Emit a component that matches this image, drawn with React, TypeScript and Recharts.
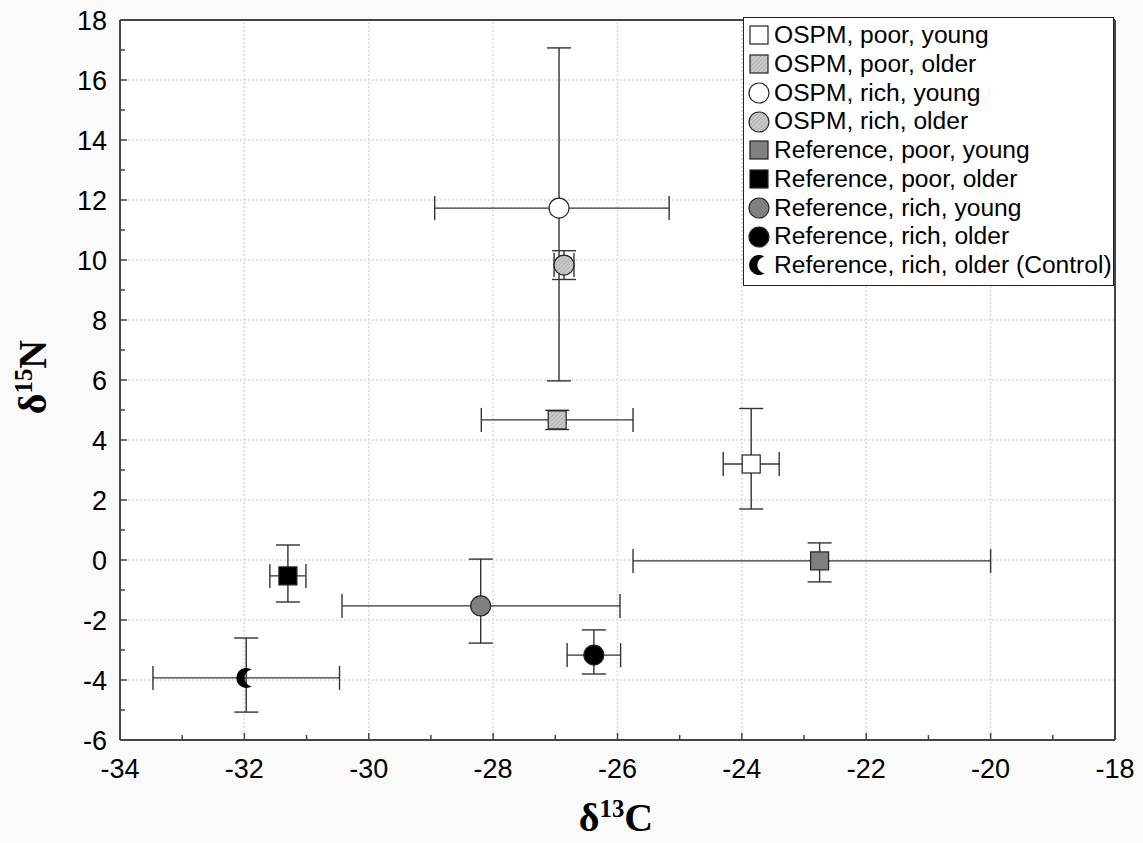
import React from 'react';
import { ScatterChart, Scatter, XAxis, YAxis, ErrorBar, ReferenceLine, CartesianGrid, Legend } from 'recharts';

const seriesNames = [
  'OSPM, poor, young',
  'OSPM, poor, older',
  'OSPM, rich, young',
  'OSPM, rich, older',
  'Reference, poor, young',
  'Reference, poor, older',
  'Reference, rich, young',
  'Reference, rich, older',
  'Reference, rich, older (Control)',
];
const d13C = [-23.85, -26.97, -26.94, -26.86, -22.75, -31.3, -28.2, -26.38, -31.97];
const d15N = [3.2, 4.67, 11.73, 9.83, -0.03, -0.53, -1.53, -3.17, -3.93];
// [below, above] around the mean
const errC = [[0.45, 0.45], [1.22, 1.22], [2.0, 1.77], [0.16, 0.16], [3.0, 2.75], [0.29, 0.29], [2.23, 2.24], [0.43, 0.43], [1.5, 1.5]];
const errN = [[1.5, 1.85], [0.32, 0.32], [5.76, 5.34], [0.48, 0.48], [0.7, 0.6], [0.87, 1.03], [1.24, 1.56], [0.63, 0.84], [1.14, 1.33]];
const markers = ['square', 'square', 'circle', 'circle', 'square', 'square', 'circle', 'circle', 'moon'];
const fills = ['#ffffff', 'url(#hatch)', '#ffffff', 'url(#hatch)', '#808080', '#000000', '#808080', '#000000', '#000000'];

const xTicks = [-34, -33, -32, -31, -30, -29, -28, -27, -26, -25, -24, -23, -22, -21, -20, -19, -18];
const yTicks = [-6, -5, -4, -3, -2, -1, 0, 1, 2, 3, 4, 5, 6, 7, 8, 9, 10, 11, 12, 13, 14, 15, 16, 17, 18];
const xGrid = [-32, -30, -28, -26, -24, -22, -20];
const yGrid = [-4, -2, 0, 2, 4, 6, 8, 10, 12, 14, 16];

const series = seriesNames.map((name, i) => ({
  name,
  marker: markers[i],
  fill: fills[i],
  data: [{ x: d13C[i], y: d15N[i], ex: errC[i], ey: errN[i] }],
}));

const AXIS = '#444';
const BAR = '#333';

const drawMarker = (kind: string, fill: string, cx: number, cy: number) => {
  if (kind === 'square') {
    return <rect x={cx - 9} y={cy - 9} width={18} height={18} fill={fill} stroke="#222" strokeWidth={1.2} />;
  }
  if (kind === 'circle') {
    return <circle cx={cx} cy={cy} r={10} fill={fill} stroke="#222" strokeWidth={1.2} />;
  }
  // crescent, horns to the right
  const d = `M ${cx + 5.5} ${cy - 8.4} A 10 10 0 1 0 ${cx + 5.5} ${cy + 8.4} A 8.5 8.5 0 0 1 ${cx + 5.5} ${cy - 8.4} Z`;
  return <path d={d} fill={fill} />;
};

const isMajor = (v: number) => v % 2 === 0;

const BottomTick = (p: any) => {
  const v = p.payload.value;
  return (
    <g>
      <line x1={p.x} x2={p.x} y1={p.y} y2={p.y - (isMajor(v) ? 7 : 5)} stroke={AXIS} strokeWidth={1.5} />
      {isMajor(v) && (
        <text x={p.x} y={p.y + 38} textAnchor="middle" fontSize={27} fill="#000">{v}</text>
      )}
    </g>
  );
};

const LeftTick = (p: any) => {
  const v = p.payload.value;
  return (
    <g>
      <line x1={p.x} x2={p.x + (isMajor(v) ? 7 : 5)} y1={p.y} y2={p.y} stroke={AXIS} strokeWidth={1.5} />
      {isMajor(v) && (
        <text x={p.x - 13} y={p.y + 9.5} textAnchor="end" fontSize={27} fill="#000">{v}</text>
      )}
    </g>
  );
};

const TopTick = (p: any) => (
  <line x1={p.x} x2={p.x} y1={p.y} y2={p.y + (isMajor(p.payload.value) ? 7 : 5)} stroke={AXIS} strokeWidth={1.5} />
);

const RightTick = (p: any) => (
  <line x1={p.x} x2={p.x - (isMajor(p.payload.value) ? 7 : 5)} y1={p.y} y2={p.y} stroke={AXIS} strokeWidth={1.5} />
);

const LegendBox = () => (
  <div style={{ border: '1.5px solid #222', background: '#fff', padding: '3px 0 5px 0', width: 369 }}>
    {series.map((s) => (
      <div key={s.name} style={{ display: 'flex', alignItems: 'center', height: 28.75 }}>
        <svg width={30} height={26} style={{ flex: 'none' }}>
          {drawMarker(s.marker, s.fill, 15, 13)}
        </svg>
        <span style={{ fontSize: 24.6, color: '#000', whiteSpace: 'nowrap', lineHeight: 1 }}>{s.name}</span>
      </div>
    ))}
  </div>
);

const titleStyle: React.CSSProperties = {
  position: 'absolute',
  fontFamily: '"Liberation Serif", "Times New Roman", serif',
  fontWeight: 'bold',
  fontSize: 40,
  whiteSpace: 'nowrap',
  lineHeight: 1,
};
const supStyle: React.CSSProperties = { fontSize: '0.62em', verticalAlign: '0.55em', lineHeight: 0 };

export default function App() {
  return (
    <div style={{ position: 'absolute', left: 0, top: 0, width: 1143, height: 843, background: '#fafafa', fontFamily: '"Liberation Sans", Arial, sans-serif' }}>
      <ScatterChart width={1143} height={843} margin={{ top: 19, right: 27, bottom: 43, left: 20 }}>
        <defs>
          <pattern id="hatch" width="3" height="3" patternUnits="userSpaceOnUse" patternTransform="rotate(45)">
            <rect width="3" height="3" fill="#cacaca" />
            <line x1="0" y1="0" x2="0" y2="3" stroke="#949494" strokeWidth="1" />
          </pattern>
        </defs>
        <CartesianGrid fill="#ffffff" horizontal={false} vertical={false} />
        <XAxis type="number" dataKey="x" domain={[-34, -18]} ticks={xTicks} interval={0} height={60}
          tickSize={0} tickMargin={0} tickLine={false} tick={BottomTick} axisLine={{ stroke: AXIS, strokeWidth: 2 }} allowDataOverflow />
        <YAxis type="number" dataKey="y" domain={[-6, 18]} ticks={yTicks} interval={0} width={100}
          tickSize={0} tickMargin={0} tickLine={false} tick={LeftTick} axisLine={{ stroke: AXIS, strokeWidth: 2 }} allowDataOverflow />
        <XAxis xAxisId="top" orientation="top" type="number" domain={[-34, -18]} ticks={xTicks} interval={0} height={1}
          tickSize={0} tickMargin={0} tickLine={false} tick={TopTick} axisLine={{ stroke: AXIS, strokeWidth: 2 }} />
        <YAxis yAxisId="right" orientation="right" type="number" domain={[-6, 18]} ticks={yTicks} interval={0} width={1}
          tickSize={0} tickMargin={0} tickLine={false} tick={RightTick} axisLine={{ stroke: AXIS, strokeWidth: 2 }} />
        {xGrid.map((v) => (
          <ReferenceLine key={'gx' + v} x={v} stroke="#d9d9d9" strokeDasharray="2 2" strokeWidth={1.5} />
        ))}
        {yGrid.map((v) => (
          <ReferenceLine key={'gy' + v} y={v} stroke="#d9d9d9" strokeDasharray="2 2" strokeWidth={1.5} />
        ))}
        {series.map((s) => (
          <Scatter key={s.name} name={s.name} data={s.data} isAnimationActive={false}
            shape={(p: any) => drawMarker(s.marker, s.fill, p.cx, p.cy)}>
            <ErrorBar dataKey="ex" direction="x" width={12} stroke={BAR} strokeWidth={1.4} />
            <ErrorBar dataKey="ey" direction="y" width={12} stroke={BAR} strokeWidth={1.4} />
          </Scatter>
        ))}
        <Legend layout="vertical" align="center" verticalAlign="middle" content={<LegendBox />}
          wrapperStyle={{ top: 17, left: 743, width: 372, bottom: 'auto', right: 'auto' }} />
      </ScatterChart>
      <div style={{ ...titleStyle, left: 33, top: 377, transform: 'translate(-50%, -50%) rotate(-90deg)' }}>
        δ<sup style={supStyle}>15</sup>N
      </div>
      <div style={{ ...titleStyle, left: 616, top: 818, transform: 'translate(-50%, -50%)' }}>
        δ<sup style={supStyle}>13</sup>C
      </div>
    </div>
  );
}
